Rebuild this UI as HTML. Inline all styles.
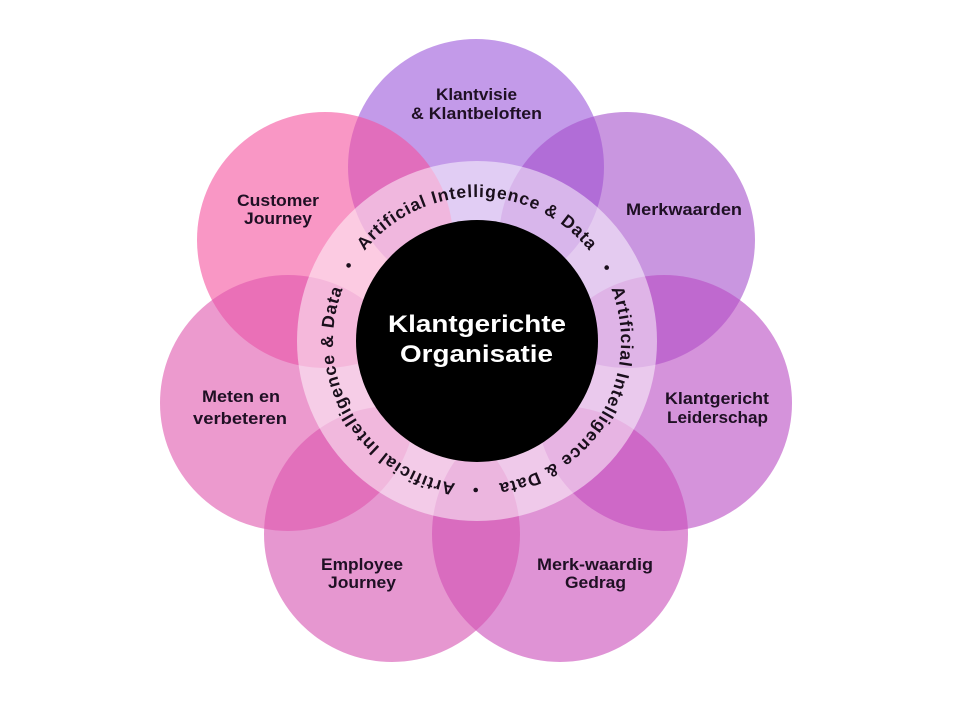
<!DOCTYPE html>
<html>
<head>
<meta charset="utf-8">
<style>
  html, body { margin: 0; padding: 0; background: #ffffff; }
  body { width: 960px; height: 720px; overflow: hidden; }
  svg { display: block; }
  .lbl { font-family: "Liberation Sans", "DejaVu Sans", sans-serif; font-weight: bold; font-size: 16.5px; fill: #1f1024; }
  .ring { font-family: "Liberation Sans", "DejaVu Sans", sans-serif; font-weight: bold; font-size: 17.5px; fill: #1a0f1c; letter-spacing: 0.9px; }
  .ctr { font-family: "Liberation Sans", "DejaVu Sans", sans-serif; font-weight: bold; font-size: 24px; fill: #ffffff; }
</style>
</head>
<body>
<svg width="960" height="720" viewBox="0 0 960 720" xmlns="http://www.w3.org/2000/svg">
  <rect x="0" y="0" width="960" height="720" fill="#ffffff"/>

  <!-- petals -->
  <g fill-opacity="0.6">
    <circle cx="476" cy="167" r="128" fill="rgb(155,87,218)"/>
    <circle cx="627" cy="240" r="128" fill="rgb(165,80,203)"/>
    <circle cx="664" cy="403" r="128" fill="rgb(185,75,195)"/>
    <circle cx="560" cy="534" r="128" fill="rgb(202,75,185)"/>
    <circle cx="392" cy="534" r="128" fill="rgb(213,82,177)"/>
    <circle cx="325" cy="240" r="128" fill="rgb(245,82,158)"/>
    <circle cx="288" cy="403" r="128" fill="rgb(223,87,174)"/>
  </g>

  <!-- translucent ring -->
  <circle cx="477" cy="341" r="180" fill="#ffffff" fill-opacity="0.5"/>
  <!-- black core -->
  <circle cx="477" cy="341" r="121" fill="#000000"/>

  <!-- ring text path (starts at bottom, clockwise) -->
  <defs>
    <path id="rp" d="M 477,485 A 144,144 0 1,1 477,197 A 144,144 0 1,1 477,485"/>
  </defs>
  <text class="ring" text-anchor="middle"><textPath href="#rp" startOffset="452.4">Artificial Intelligence &amp; Data</textPath></text>
  <text class="ring" text-anchor="middle"><textPath href="#rp" startOffset="754.0">Artificial Intelligence &amp; Data</textPath></text>
  <text class="ring" text-anchor="middle"><textPath href="#rp" startOffset="150.8">Artificial Intelligence &amp; Data</textPath></text>

  <!-- separator dots -->
  <circle cx="475.7" cy="490" r="2.3" fill="#1a0f1c"/>
  <circle cx="348.6" cy="265.4" r="2.3" fill="#1a0f1c"/>
  <circle cx="606.7" cy="267.6" r="2.3" fill="#1a0f1c"/>

  <!-- center text -->
  <text class="ctr" x="388" y="332" textLength="178" lengthAdjust="spacingAndGlyphs">Klantgerichte</text>
  <text class="ctr" x="400" y="362" textLength="153" lengthAdjust="spacingAndGlyphs">Organisatie</text>

  <!-- petal labels -->
  <text class="lbl" x="436" y="100" textLength="81" lengthAdjust="spacingAndGlyphs">Klantvisie</text>
  <text class="lbl" x="411" y="119" textLength="131" lengthAdjust="spacingAndGlyphs">&amp; Klantbeloften</text>

  <text class="lbl" x="237" y="206" textLength="82" lengthAdjust="spacingAndGlyphs">Customer</text>
  <text class="lbl" x="244" y="224" textLength="68" lengthAdjust="spacingAndGlyphs">Journey</text>

  <text class="lbl" x="626" y="215" textLength="116" lengthAdjust="spacingAndGlyphs">Merkwaarden</text>

  <text class="lbl" x="665" y="404" textLength="104" lengthAdjust="spacingAndGlyphs">Klantgericht</text>
  <text class="lbl" x="667" y="423" textLength="101" lengthAdjust="spacingAndGlyphs">Leiderschap</text>

  <text class="lbl" x="202" y="402" textLength="78" lengthAdjust="spacingAndGlyphs">Meten en</text>
  <text class="lbl" x="193" y="424" textLength="94" lengthAdjust="spacingAndGlyphs">verbeteren</text>

  <text class="lbl" x="321" y="570" textLength="82" lengthAdjust="spacingAndGlyphs">Employee</text>
  <text class="lbl" x="328" y="588" textLength="68" lengthAdjust="spacingAndGlyphs">Journey</text>

  <text class="lbl" x="537" y="570" textLength="116" lengthAdjust="spacingAndGlyphs">Merk-waardig</text>
  <text class="lbl" x="565" y="588" textLength="61" lengthAdjust="spacingAndGlyphs">Gedrag</text>
</svg>
</body>
</html>
